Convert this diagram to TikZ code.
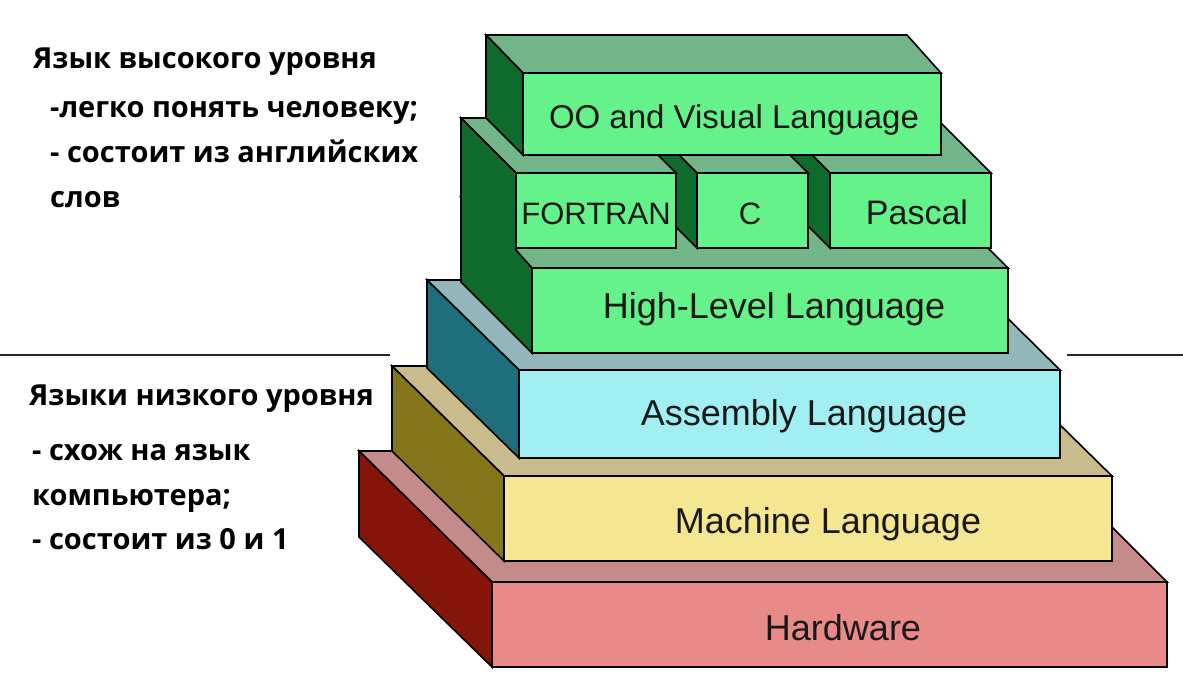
\documentclass[tikz,border=0pt]{standalone}
\usepackage{fontspec}
\setmainfont{Liberation Sans}
\newfontfamily\rufont{Open Sans}

\definecolor{hwF}{HTML}{E88A88}
\definecolor{hwS}{HTML}{85150A}
\definecolor{hwT}{HTML}{C58A8A}
\definecolor{mlF}{HTML}{F5E692}
\definecolor{mlS}{HTML}{85751A}
\definecolor{mlT}{HTML}{C9BB8C}
\definecolor{asF}{HTML}{A2EFF3}
\definecolor{asS}{HTML}{1E6E7C}
\definecolor{asT}{HTML}{91B7BA}
\definecolor{glF}{HTML}{66F28A}
\definecolor{glS}{HTML}{0F6B2C}
\definecolor{glT}{HTML}{71B589}

\tikzset{
  edge/.style={draw=black, line width=1.6pt, line join=miter},
  lbl/.style={anchor=base, inner sep=0pt, text=black!90, font=\fontsize{36}{40}\selectfont},
  rus/.style={anchor=base west, inner sep=0pt, font=\rufont\bfseries\fontsize{29}{34}\selectfont},
  sepline/.style={draw=black!85, line width=2pt},
}

\begin{document}
\begin{tikzpicture}[x=1pt,y=-1pt]
\useasboundingbox (0,0) rectangle (1183,678);
\fill[white] (0,0) rectangle (1183,678);

% separator lines
\draw[sepline] (0,355) -- (390,355);
\draw[sepline] (1067,355) -- (1183,355);

% Hardware
\filldraw[edge, fill=hwT] (359,451) -- (1036,451) -- (1167,582) -- (492,582) -- cycle;
\filldraw[edge, fill=hwS] (359,451) -- (492,582) -- (492,667) -- (359,537) -- cycle;
\filldraw[edge, fill=hwF] (492,582) rectangle (1167,667);

% Machine
\filldraw[edge, fill=mlT] (392,366) -- (1000,366) -- (1112,476) -- (504,476) -- cycle;
\filldraw[edge, fill=mlS] (392,366) -- (504,476) -- (504,561) -- (392,451) -- cycle;
\filldraw[edge, fill=mlF] (504,476) rectangle (1112,561);

% Assembly
\filldraw[edge, fill=asT] (427,280) -- (969,280) -- (1060,370) -- (519,370) -- cycle;
\filldraw[edge, fill=asS] (427,280) -- (519,370) -- (519,458) -- (427,368) -- cycle;
\filldraw[edge, fill=asF] (519,370) rectangle (1060,458);

% High-Level block
\filldraw[edge, fill=glT] (461,197) -- (937,197) -- (1008,268) -- (532,268) -- cycle;
\filldraw[edge, fill=glF] (532,268) rectangle (1008,353);

% Pascal box
\filldraw[edge, fill=glT] (775,118) -- (936,118) -- (991,173) -- (830,173) -- cycle;
\filldraw[edge, fill=glS] (775,118) -- (830,173) -- (830,248) -- (775,193) -- cycle;
\filldraw[edge, fill=glF] (830,173) rectangle (991,248);
% C box
\filldraw[edge, fill=glT] (642,118) -- (753,118) -- (808,173) -- (697,173) -- cycle;
\filldraw[edge, fill=glS] (642,118) -- (697,173) -- (697,248) -- (642,193) -- cycle;
\filldraw[edge, fill=glF] (697,173) rectangle (808,248);
% FORTRAN box
\filldraw[edge, fill=glT] (461,118) -- (621,118) -- (676,173) -- (516,173) -- cycle;
\filldraw[edge, fill=glF] (516,173) rectangle (676,248);
% common dark left face
\filldraw[edge, fill=glS] (461,118) -- (516,173) -- (516,250) -- (532,268) -- (532,353) -- (461,282) -- cycle;

% OO block
\filldraw[edge, fill=glT] (486,35) -- (907,35) -- (941,73) -- (523,73) -- cycle;
\filldraw[edge, fill=glS] (486,35) -- (523,73) -- (523,155) -- (486,118) -- cycle;
\filldraw[edge, fill=glF] (523,73) rectangle (941,155);

% block labels
\node[lbl, font=\fontsize{33}{38}\selectfont] (oo) at (734,128) {OO and Visual Language};
\node[lbl, font=\fontsize{31}{36}\selectfont] (fortran) at (596,224) {FORTRAN};
\node[lbl, font=\fontsize{31}{36}\selectfont] (c) at (750,224) {C};
\node[lbl, font=\fontsize{34}{38}\selectfont] (pascal) at (917,224) {Pascal};
\node[lbl] (high) at (774,318) {High-Level Language};
\node[lbl] (asm) at (804,425) {Assembly Language};
\node[lbl] (mach) at (828,533) {Machine Language};
\node[lbl] (hw) at (843,640) {Hardware};

% left texts
\node[rus] (h1) at (33,68) {Язык высокого уровня};
\node[rus] (h2) at (50,117) {-легко понять человеку;};
\node[rus] (h3) at (50,162) {- состоит из английских};
\node[rus] (h4) at (50,207) {слов};
\node[rus] (l1) at (29,405) {Языки низкого уровня};
\node[rus] (l2) at (32,460) {- схож на язык};
\node[rus] (l3) at (32,505) {компьютера;};
\node[rus] (l4) at (32,549) {- состоит из 0 и 1};
\end{tikzpicture}
\end{document}
